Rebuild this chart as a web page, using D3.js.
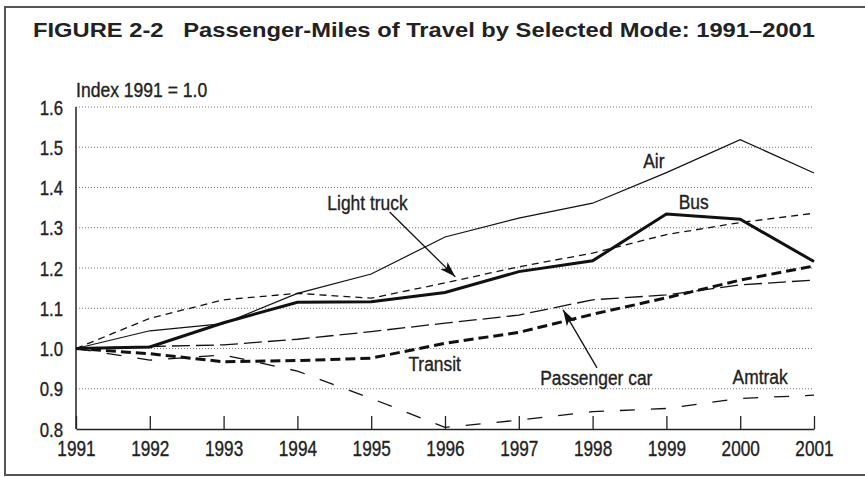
<!DOCTYPE html>
<html>
<head>
<meta charset="utf-8">
<script src="https://cdn.jsdelivr.net/npm/d3@7"></script>
<style>
  body { margin: 0; background: #fff; }
  .narrow { font-family: "Liberation Sans", Arial, sans-serif; fill: #222; stroke: #222; stroke-width: 0.35px; }
</style>
</head>
<body>
<div id="chart"></div>
<script>
// Index values, 1991 = 1.0
const years = [1991, 1992, 1993, 1994, 1995, 1996, 1997, 1998, 1999, 2000, 2001];
const air = [1.00, 1.044, 1.062, 1.137, 1.185, 1.277, 1.324, 1.361, 1.437, 1.519, 1.436];
const bus = [1.00, 1.004, 1.064, 1.115, 1.116, 1.139, 1.191, 1.218, 1.334, 1.321, 1.216];
const lightTruck = [1.00, 1.075, 1.121, 1.137, 1.125, 1.163, 1.203, 1.237, 1.283, 1.313, 1.336];
const passengerCar = [1.00, 1.005, 1.009, 1.023, 1.042, 1.063, 1.083, 1.121, 1.133, 1.158, 1.170];
const transit = [1.00, 0.987, 0.967, 0.970, 0.976, 1.013, 1.040, 1.085, 1.126, 1.170, 1.205];
const amtrak = [1.00, 0.971, 0.984, 0.944, 0.876, 0.804, 0.822, 0.843, 0.851, 0.876, 0.884];
const yTicks = [0.8, 0.9, 1.0, 1.1, 1.2, 1.3, 1.4, 1.5, 1.6];

const width = 865, height = 477;
const svg = d3.select("#chart").append("svg")
    .attr("width", width)
    .attr("height", height);

// squeeze text horizontally, no condensed font installed
function condense(sel, factor) {
    sel.each(function () {
        const w = this.getComputedTextLength();
        d3.select(this)
            .attr("textLength", w * factor)
            .attr("lengthAdjust", "spacingAndGlyphs");
    });
}

// frame
svg.append("rect")
    .attr("x", 5).attr("y", 7)
    .attr("width", width + 10).attr("height", 468)
    .attr("fill", "none")
    .attr("stroke", "#555")
    .attr("stroke-width", 2);

svg.append("text")
    .attr("x", 33).attr("y", 37)
    .attr("textLength", 782)
    .attr("lengthAdjust", "spacingAndGlyphs")
    .style("font-family", "'Liberation Sans', Arial, sans-serif")
    .style("font-weight", "bold")
    .style("font-size", "20.5px")
    .style("fill", "#222")
    .text("FIGURE 2-2\u00a0\u00a0 Passenger-Miles of Travel by Selected Mode: 1991\u20132001");

const x = d3.scaleLinear().domain([1991, 2001]).range([76, 814]);
const y = d3.scaleLinear().domain([0.8, 1.6]).range([429, 107]);

// gridlines
svg.selectAll(".grid")
    .data(yTicks.slice(1))
    .enter()
    .append("line")
    .attr("x1", x(1991)).attr("x2", x(2001))
    .attr("y1", d => y(d)).attr("y2", d => y(d))
    .attr("stroke", "#777")
    .attr("stroke-width", 1)
    .attr("stroke-dasharray", "1,2");

// y axis labels
svg.selectAll(".ylab")
    .data(yTicks)
    .enter()
    .append("text")
    .attr("class", "narrow")
    .attr("x", 63)
    .attr("y", d => y(d) + 7.5)
    .attr("text-anchor", "end")
    .style("font-size", "21px")
    .text(d => d.toFixed(1))
    .call(condense, 0.8);

svg.append("text")
    .attr("class", "narrow")
    .attr("x", x(1991)).attr("y", y(1.625))
    .style("font-size", "19.5px")
    .text("Index 1991 = 1.0")
    .call(condense, 0.9);

// x axis
const xAxis = d3.axisBottom(x)
    .tickValues(years)
    .tickFormat(d3.format("d"))
    .tickSizeInner(-13)
    .tickSizeOuter(0)
    .tickPadding(12);

const gx = svg.append("g")
    .attr("transform", `translate(0,${y(0.8)})`)
    .call(xAxis);
gx.select(".domain").attr("stroke", "#222").attr("stroke-width", 1.5);
gx.selectAll(".tick line").attr("stroke", "#222").attr("stroke-width", 1.3);
gx.selectAll(".tick text")
    .attr("class", "narrow")
    .attr("fill", "#222")
    .style("font-size", "21.5px")
    .call(condense, 0.8);

svg.append("line")
    .attr("x1", x(1991)).attr("x2", x(1991))
    .attr("y1", y(1.6)).attr("y2", y(0.8))
    .attr("stroke", "#222")
    .attr("stroke-width", 1.5);

// series lines
const series = [
    { name: "Amtrak", values: amtrak, width: 1.3, dash: "15,16" },
    { name: "Passenger car", values: passengerCar, width: 1.3, dash: "18,6" },
    { name: "Light truck", values: lightTruck, width: 1.3, dash: "7,5" },
    { name: "Air", values: air, width: 1.2, dash: null },
    { name: "Transit", values: transit, width: 3, dash: "10,5" },
    { name: "Bus", values: bus, width: 3, dash: null }
];

const line = d3.line()
    .x((d, i) => x(years[i]))
    .y(d => y(d));

svg.selectAll(".series")
    .data(series)
    .enter()
    .append("path")
    .attr("d", d => line(d.values))
    .attr("fill", "none")
    .attr("stroke", "#111")
    .attr("stroke-width", d => d.width)
    .attr("stroke-dasharray", d => d.dash);

// arrowhead
svg.append("defs").append("marker")
    .attr("id", "arrow")
    .attr("viewBox", "0 0 16 10")
    .attr("refX", 16).attr("refY", 5)
    .attr("markerWidth", 16).attr("markerHeight", 10)
    .attr("markerUnits", "userSpaceOnUse")
    .attr("orient", "auto")
    .append("path")
    .attr("d", "M0,0 L16,5 L0,10 L4,5 Z")
    .attr("fill", "#111");

// annotations
const labels = [
    { text: "Air", year: 1998.83, value: 1.448 },
    { text: "Bus", year: 1999.37, value: 1.347 },
    { text: "Light truck", year: 1994.95, value: 1.344 },
    { text: "Transit", year: 1995.86, value: 0.944 },
    { text: "Passenger car", year: 1998.05, value: 0.909 },
    { text: "Amtrak", year: 2000.27, value: 0.912 }
];

svg.selectAll(".label")
    .data(labels)
    .enter()
    .append("text")
    .attr("class", "narrow")
    .attr("x", d => x(d.year))
    .attr("y", d => y(d.value))
    .attr("text-anchor", "middle")
    .style("font-size", "20px")
    .text(d => d.text)
    .call(condense, 0.87);

const arrows = [
    { from: [1995.25, 1.339], to: [1996.14, 1.178] },
    { from: [1998.06, 0.952], to: [1997.6, 1.096] }
];

svg.selectAll(".arrow")
    .data(arrows)
    .enter()
    .append("line")
    .attr("x1", d => x(d.from[0])).attr("y1", d => y(d.from[1]))
    .attr("x2", d => x(d.to[0])).attr("y2", d => y(d.to[1]))
    .attr("stroke", "#111")
    .attr("stroke-width", 1.3)
    .attr("marker-end", "url(#arrow)");
</script>
</body>
</html>
